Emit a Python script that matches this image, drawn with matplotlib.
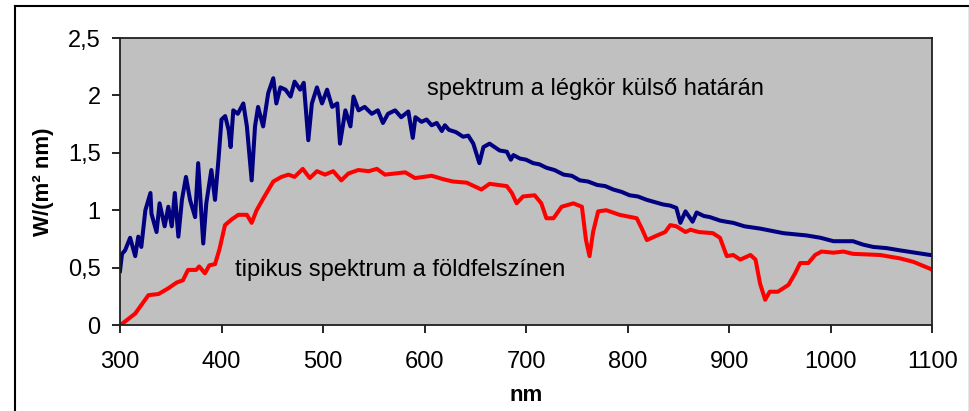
import matplotlib.pyplot as plt
from matplotlib.ticker import FuncFormatter, MultipleLocator
from matplotlib.lines import Line2D

plt.rcParams['font.family'] = ['Liberation Sans', 'DejaVu Sans']

# spectrum at the top of the atmosphere (nm, W/(m2 nm))
top_nm = [300, 302, 305, 310, 315, 318, 321, 325, 330, 331, 336, 339, 344, 347.6, 351,
          354, 357.5, 361, 365, 369, 374, 377, 382, 385, 390, 393.6, 397, 400, 403.6,
          407, 409, 411.6, 416, 421.5, 425, 429.7, 433, 436, 441, 446, 451, 454, 458,
          463, 468, 472, 477.5, 481, 485.5, 489, 494, 499, 504, 509, 514, 516.7, 522,
          527, 530, 535, 541, 548, 554, 559, 564, 571, 577, 584, 588.4, 591, 597, 602, 607,
          612, 617, 620, 624, 631, 638, 643, 648, 654, 658, 664, 669, 674, 681, 685, 687.5,
          694, 700, 707, 713, 720, 728, 737, 745, 753, 761, 770, 778, 786, 794, 802, 810,
          819, 827, 835, 842, 848, 852, 857, 864, 868, 875, 881, 891, 897, 904, 915, 930.5,
          942, 953.5, 965, 976.5, 990, 1002.8, 1022, 1032, 1042, 1055, 1068.5, 1083, 1098, 1100]
top_val = [0.47, 0.62, 0.65, 0.76, 0.60, 0.77, 0.68, 1.00, 1.15, 0.97, 0.81, 1.06, 0.86, 1.03, 0.86,
           1.15, 0.77, 1.09, 1.29, 1.09, 0.94, 1.41, 0.71, 1.06, 1.35, 1.09, 1.44, 1.79, 1.82,
           1.70, 1.55, 1.87, 1.84, 1.93, 1.73, 1.26, 1.73, 1.90, 1.73, 2.02, 2.15, 1.93, 2.07,
           2.05, 1.99, 2.12, 2.05, 2.11, 1.61, 1.93, 2.07, 1.93, 2.05, 1.90, 1.93, 1.58, 1.87,
           1.73, 1.99, 1.87, 1.90, 1.84, 1.87, 1.76, 1.84, 1.87, 1.81, 1.86, 1.63, 1.81, 1.77, 1.79, 1.74,
           1.76, 1.69, 1.74, 1.70, 1.68, 1.64, 1.65, 1.58, 1.41, 1.55, 1.58, 1.55, 1.52, 1.51, 1.44, 1.48,
           1.45, 1.44, 1.41, 1.40, 1.37, 1.35, 1.31, 1.30, 1.26, 1.25, 1.22, 1.21, 1.18, 1.16, 1.13, 1.12,
           1.09, 1.07, 1.05, 1.04, 1.02, 0.89, 0.99, 0.90, 0.98, 0.95, 0.94, 0.91, 0.90, 0.89, 0.86, 0.84,
           0.82, 0.80, 0.79, 0.78, 0.76, 0.73, 0.73, 0.70, 0.68, 0.67, 0.65, 0.63, 0.61, 0.61]

# typical spectrum at ground level
gnd_nm = [300, 302, 315, 328, 338, 347.6, 355.8, 362, 367, 375, 378, 383.7, 388, 393.6, 398,
          403.4, 410, 416.6, 425, 429.7, 434.6, 441, 451, 459, 466, 472, 480, 487, 494, 502,
          510, 518, 525, 534.7, 545, 553, 561, 571, 581, 590.6, 607, 618.5, 628, 641.5, 656,
          664, 681, 686, 690.7, 697, 708.5, 715, 720, 727, 735, 746.6, 755, 759, 762.5, 766,
          771, 779, 792, 809, 814, 819, 829, 837, 842, 848, 857, 862, 870, 884, 891, 897.7,
          904, 911, 921, 926, 930.5, 935.5, 940, 948, 958.5, 965, 970, 978, 984.7, 991,
          1002.8, 1012.6, 1022, 1048.7, 1068.5, 1081.6, 1098, 1100]
gnd_val = [0.0, 0.01, 0.10, 0.26, 0.27, 0.32, 0.37, 0.39, 0.48, 0.48, 0.51, 0.45, 0.52, 0.53, 0.66,
           0.87, 0.92, 0.96, 0.96, 0.89, 1.00, 1.10, 1.25, 1.29, 1.31, 1.29, 1.36, 1.28, 1.34, 1.31,
           1.34, 1.26, 1.32, 1.35, 1.34, 1.36, 1.31, 1.32, 1.33, 1.28, 1.30, 1.27, 1.25, 1.24, 1.18,
           1.23, 1.21, 1.15, 1.06, 1.12, 1.13, 1.06, 0.93, 0.93, 1.03, 1.06, 1.03, 0.74, 0.60, 0.81,
           0.99, 1.00, 0.96, 0.93, 0.84, 0.74, 0.78, 0.81, 0.87, 0.86, 0.81, 0.83, 0.81, 0.80, 0.76, 0.60,
           0.61, 0.57, 0.61, 0.57, 0.36, 0.22, 0.29, 0.29, 0.35, 0.45, 0.54, 0.54, 0.61, 0.64,
           0.63, 0.64, 0.62, 0.61, 0.58, 0.55, 0.49, 0.48]

fig = plt.figure(figsize=(9.7, 4.11), dpi=100)
ax = fig.add_axes([0.1237, 0.2092, 0.8373, 0.6983])
ax.set_facecolor('#C0C0C0')

ax.plot(top_nm, top_val, color='#000080', lw=2.9, solid_joinstyle='round')
ax.plot(gnd_nm, gnd_val, color='#FF0000', lw=2.9, solid_joinstyle='round')

ax.set_xlim(300, 1100)
ax.set_ylim(0, 2.5)
ax.xaxis.set_major_locator(MultipleLocator(100))
ax.yaxis.set_major_locator(MultipleLocator(0.5))
ax.yaxis.set_major_formatter(FuncFormatter(lambda v, p: ('%g' % v).replace('.', ',')))
ax.tick_params(axis='both', direction='out', length=6, width=1.2, labelsize=17, colors='black')
ax.tick_params(axis='x', pad=13)
ax.tick_params(axis='y', pad=8)
for s in ax.spines.values():
    s.set_linewidth(1.3)
    s.set_color('#202020')

ax.set_xlabel('nm', fontsize=16, fontweight='bold', labelpad=8)
ax.set_ylabel('W/(m² nm)', fontsize=16, fontweight='bold', labelpad=10)

ax.text(602, 2.06, 'spektrum a légkör külső határán', fontsize=17, va='center', ha='left')
ax.text(413, 0.48, 'tipikus spektrum a földfelszínen', fontsize=17, va='center', ha='left')

# outer frame
x0, x1, y0, y1 = 15 / 970, 969 / 970, -0.01, 1 - 6 / 411
fig.add_artist(Line2D([x0, x1], [y1, y1], transform=fig.transFigure, color='black', lw=1.5))
fig.add_artist(Line2D([x0, x0], [y0, y1], transform=fig.transFigure, color='black', lw=1.5))
fig.add_artist(Line2D([x1, x1], [y0, y1], transform=fig.transFigure, color='#808080', lw=1))

fig.savefig('out.png', dpi=100)
